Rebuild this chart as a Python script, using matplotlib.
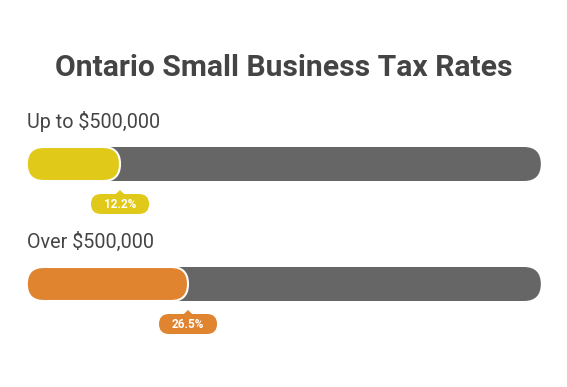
import numpy as np
import matplotlib.pyplot as plt
from matplotlib.patches import FancyBboxPatch, Polygon

plt.rcParams['font.family'] = ['Roboto', 'DejaVu Sans']

title = "Ontario Small Business Tax Rates"
labels = ["Up to $500,000", "Over $500,000"]
rates = [12.2, 26.5]
colors = ["#e0c918", "#e08430"]
track_color = "#666666"
text_color = "#444444"

# layout (x in rate units, y in pixels)
px_per_unit = 4.755
x_start = -7.4
x_end = 100.7
bar_h = 34
rad = bar_h / 2 / px_per_unit
bar_y = [147, 267]

fig = plt.figure(figsize=(5.67, 3.87), dpi=100)
ax = fig.add_axes([0, 0, 1, 1])
ax.set_xlim(-62 / px_per_unit, (567 - 62) / px_per_unit)
ax.set_ylim(387, 0)
ax.axis('off')

ax.text(np.mean(ax.get_xlim()), 68, title, ha='center', va='center',
        fontsize=21.7, fontweight='bold', color=text_color)

for i in range(len(rates)):
    y0 = bar_y[i]
    ax.text(x_start, y0 - 25, labels[i], ha='left', va='center',
            fontsize=14.2, color=text_color)
    track = FancyBboxPatch((x_start, y0), x_end - x_start, bar_h,
                           boxstyle=f"round,pad=0,rounding_size={rad}",
                           mutation_aspect=px_per_unit,
                           fc=track_color, ec='none')
    ax.add_patch(track)
    fill = FancyBboxPatch((x_start, y0), rates[i] - x_start, bar_h,
                          boxstyle=f"round,pad=0,rounding_size={rad}",
                          mutation_aspect=px_per_unit,
                          fc=colors[i], ec='white', lw=1.5)
    ax.add_patch(fill)

    # tooltip
    tw = 58 / px_per_unit
    th = 20
    ty = y0 + bar_h + 13
    trad = th / 2 / px_per_unit
    tip = FancyBboxPatch((rates[i] - tw / 2, ty), tw, th,
                         boxstyle=f"round,pad=0,rounding_size={trad}",
                         mutation_aspect=px_per_unit,
                         fc=colors[i], ec='none')
    ax.add_patch(tip)
    tri = Polygon([(rates[i] - 1.1, ty + 1), (rates[i], ty - 4), (rates[i] + 1.1, ty + 1)],
                  closed=True, fc=colors[i], ec='none')
    ax.add_patch(tri)
    ax.text(rates[i], ty + th / 2 + 0.5, f"{rates[i]}%", ha='center', va='center',
            fontsize=8.5, fontweight='bold', color='white')

fig.savefig("out.png", dpi=100)
